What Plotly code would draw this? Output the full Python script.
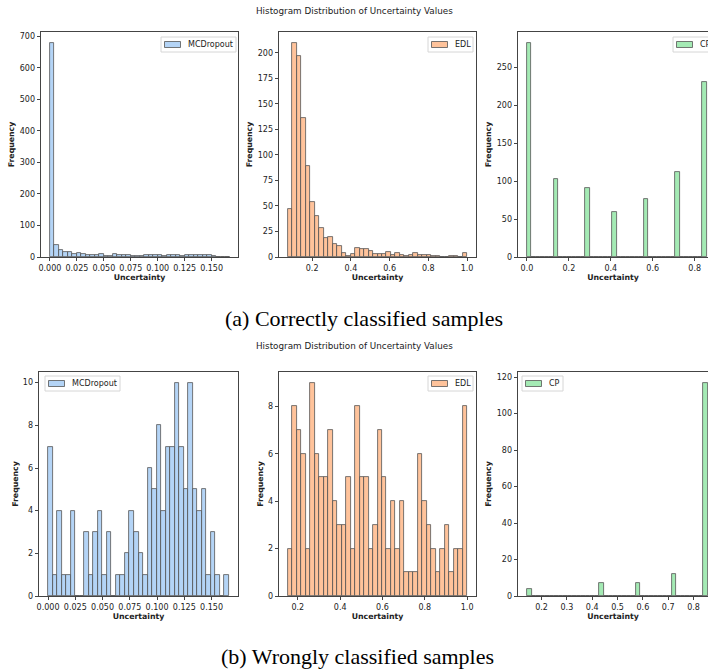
import numpy as np
import plotly.graph_objects as go

W, H = 708, 672
N_BINS = 40

# ---------------- data ----------------
methods = ["MCDropout", "EDL", "CP"]

mcd_correct_counts = [680, 37, 21, 15, 17, 11, 14, 8, 6, 6, 6, 8, 4, 4, 11, 6, 6, 6, 3, 4,
                      4, 5, 7, 7, 7, 2, 5, 7, 5, 3, 7, 6, 5, 6, 7, 5, 2, 0, 1, 1]
mcd_correct_range = (0.0, 0.1667)
edl_correct_counts = [47, 210, 197, 136, 89, 54, 40, 28, 19, 20, 13, 11, 4, 1, 3, 9, 8, 8, 6, 3,
                      3, 3, 5, 2, 4, 2, 1, 2, 4, 2, 2, 2, 1, 1, 0, 0, 1, 1, 0, 4]
edl_correct_range = (0.075, 1.0)
cp_levels_correct = [0.0, 0.143, 0.286, 0.428, 0.571, 0.714, 0.857]
cp_counts_correct = [283, 103, 91, 59, 76, 112, 231]
cp_correct_range = (0.0, 0.857)

mcd_wrong_counts = [7, 1, 4, 1, 1, 4, 0, 0, 3, 1, 3, 4, 1, 3, 0, 1, 1, 2, 4, 3,
                    2, 1, 6, 5, 8, 4, 7, 7, 10, 7, 5, 10, 5, 4, 5, 1, 3, 1, 0, 1]
mcd_wrong_range = (0.0, 0.166)
edl_wrong_counts = [2, 8, 7, 6, 2, 9, 6, 5, 5, 7, 4, 3, 3, 5, 2, 8, 5, 5, 2, 3,
                    7, 5, 2, 4, 2, 4, 1, 1, 1, 6, 4, 3, 2, 1, 2, 3, 1, 2, 2, 8]
edl_wrong_range = (0.153, 1.0)
cp_levels_wrong = [0.143, 0.429, 0.572, 0.715, 0.857]
cp_counts_wrong = [4, 7, 7, 12, 117]
cp_wrong_range = (0.143, 0.857)

mcd_xticks = [0.0, 0.025, 0.05, 0.075, 0.1, 0.125, 0.15]
edl_xticks = [0.2, 0.4, 0.6, 0.8, 1.0]
cp_correct_xticks = [0.0, 0.2, 0.4, 0.6, 0.8]
cp_wrong_xticks = [0.2, 0.3, 0.4, 0.5, 0.6, 0.7, 0.8]

main_title = "Histogram Distribution of Uncertainty Values"
caption_a = "(a) Correctly classified samples"
caption_b = "(b) Wrongly classified samples"
x_label = "Uncertainty"
y_label = "Frequency"

# ---------------- style ----------------
FILL = {"MCDropout": "rgba(161,201,244,0.8)", "EDL": "rgba(255,180,130,0.8)", "CP": "rgba(141,229,161,0.8)"}
EDGE = "#555555"
SPINE = "#444444"
TXT = "#222222"
FONT = "DejaVu Sans"
TICK_SIZE = 8
LABEL_SIZE = 7.8


def px_x(p):
    return p / W


def px_y(p):
    return 1 - p / H


def bins_from_counts(counts, rng):
    edges = np.linspace(rng[0], rng[1], N_BINS + 1)
    return (edges[:-1] + edges[1:]) / 2, edges[1] - edges[0], np.asarray(counts)


def bins_from_levels(levels, counts, rng):
    c, edges = np.histogram(levels, bins=N_BINS, range=rng, weights=counts)
    return (edges[:-1] + edges[1:]) / 2, edges[1] - edges[0], c


panels = [
    dict(name="MCDropout", data=bins_from_counts(mcd_correct_counts, mcd_correct_range),
         xd=(41, 238), yd=(32, 257), xr=(-0.0083, 0.1745), yr=(0, 714),
         xt=(mcd_xticks, ".3f"), yt=100, leg=(161, 37, 236), right=True),
    dict(name="EDL", data=bins_from_counts(edl_correct_counts, edl_correct_range),
         xd=(279, 476), yd=(32, 257), xr=(0.029, 1.046), yr=(0, 220.5),
         xt=(edl_xticks, ".1f"), yt=25, leg=(428, 37, 473), right=True),
    dict(name="CP", data=bins_from_levels(cp_levels_correct, cp_counts_correct, cp_correct_range),
         xd=(518, 708), yd=(32, 257), xr=(-0.0428, 0.8637), yr=(0, 297),
         xt=(cp_correct_xticks, ".1f"), yt=50, leg=(673, 37, 719), right=False),
    dict(name="MCDropout", data=bins_from_counts(mcd_wrong_counts, mcd_wrong_range),
         xd=(39, 238), yd=(372, 596), xr=(-0.0083, 0.1743), yr=(0, 10.5),
         xt=(mcd_xticks, ".3f"), yt=2, leg=(45, 376, 120), right=True),
    dict(name="EDL", data=bins_from_counts(edl_wrong_counts, edl_wrong_range),
         xd=(279, 476), yd=(372, 596), xr=(0.111, 1.042), yr=(0, 9.45),
         xt=(edl_xticks, ".1f"), yt=2, leg=(428, 376, 473), right=True),
    dict(name="CP", data=bins_from_levels(cp_levels_wrong, cp_counts_wrong, cp_wrong_range),
         xd=(518, 708), yd=(372, 596), xr=(0.107, 0.857), yr=(0, 122.85),
         xt=(cp_wrong_xticks, ".1f"), yt=20, leg=(522, 376, 563), right=False),
]

fig = go.Figure()
shapes = []
annotations = []

for i, p in enumerate(panels, start=1):
    sfx = "" if i == 1 else str(i)
    xa, ya = "x" + sfx, "y" + sfx
    centers, width, counts = p["data"]
    fig.add_trace(go.Bar(
        x=centers, y=counts, width=width, name=p["name"], showlegend=False,
        marker=dict(color=FILL[p["name"]], line=dict(color=EDGE, width=0.8)),
        xaxis=xa, yaxis=ya,
        hovertemplate="%{x:.3f}: %{y}<extra>" + p["name"] + "</extra>",
    ))
    ticks, fmt = p["xt"]
    axis_common = dict(showline=True, linecolor=SPINE, linewidth=0.8, ticks="outside",
                       ticklen=3.5, tickwidth=0.8, tickcolor=SPINE, showgrid=False,
                       zeroline=False, tickfont=dict(family=FONT, size=TICK_SIZE, color=TXT))
    fig.layout["xaxis" + sfx] = dict(
        domain=[px_x(p["xd"][0]), px_x(p["xd"][1])], anchor=ya, range=list(p["xr"]),
        tickmode="array", tickvals=ticks, tickformat=fmt, mirror=True,
        title=dict(text=x_label, standoff=2,
                   font=dict(family=FONT, size=LABEL_SIZE, color=TXT, weight="bold")),
        **axis_common)
    fig.layout["yaxis" + sfx] = dict(
        domain=[px_y(p["yd"][1]), px_y(p["yd"][0])], anchor=xa, range=list(p["yr"]),
        tick0=0, dtick=p["yt"], mirror=p["right"],
        title=dict(text=y_label, standoff=3,
                   font=dict(family=FONT, size=LABEL_SIZE, color=TXT, weight="bold")),
        **axis_common)

    # matplotlib-style legend box
    lx0, ly0, lx1 = p["leg"]
    ly1 = ly0 + 15
    cy = (ly0 + ly1) / 2
    shapes.append(dict(type="rect", xref="paper", yref="paper",
                       x0=px_x(lx0), x1=px_x(lx1), y0=px_y(ly1), y1=px_y(ly0),
                       fillcolor="rgba(255,255,255,0.85)", line=dict(color="#d6d6d6", width=1)))
    shapes.append(dict(type="rect", xref="paper", yref="paper",
                       x0=px_x(lx0 + 3.5), x1=px_x(lx0 + 19.5), y0=px_y(cy + 3), y1=px_y(cy - 3),
                       fillcolor=FILL[p["name"]], line=dict(color=EDGE, width=0.8)))
    annotations.append(dict(text=p["name"], xref="paper", yref="paper", x=px_x(lx0 + 25), y=px_y(cy),
                            xanchor="left", yanchor="middle", showarrow=False,
                            font=dict(family=FONT, size=8, color=TXT)))

for ty in (11, 346):
    annotations.append(dict(text=main_title, xref="paper", yref="paper", x=px_x(354), y=px_y(ty),
                            xanchor="center", yanchor="middle", showarrow=False,
                            font=dict(family=FONT, size=8.8, color=TXT)))

annotations.append(dict(text=caption_a, xref="paper", yref="paper", x=px_x(364), y=px_y(318),
                        xanchor="center", yanchor="middle", showarrow=False,
                        font=dict(family="Liberation Serif", size=22, color="black")))
annotations.append(dict(text=caption_b, xref="paper", yref="paper", x=px_x(358), y=px_y(656),
                        xanchor="center", yanchor="middle", showarrow=False,
                        font=dict(family="Liberation Serif", size=22, color="black")))

fig.update_layout(
    width=W, height=H, margin=dict(l=0, r=0, t=0, b=0, autoexpand=False),
    paper_bgcolor="white", plot_bgcolor="white", bargap=0,
    shapes=shapes, annotations=annotations, font=dict(family=FONT, color=TXT),
)

fig.write_html(
    "out.html",
    config={"displayModeBar": False},
    post_script="document.body.style.margin='0';document.body.style.padding='0';"
                "document.body.style.overflow='hidden';",
)
